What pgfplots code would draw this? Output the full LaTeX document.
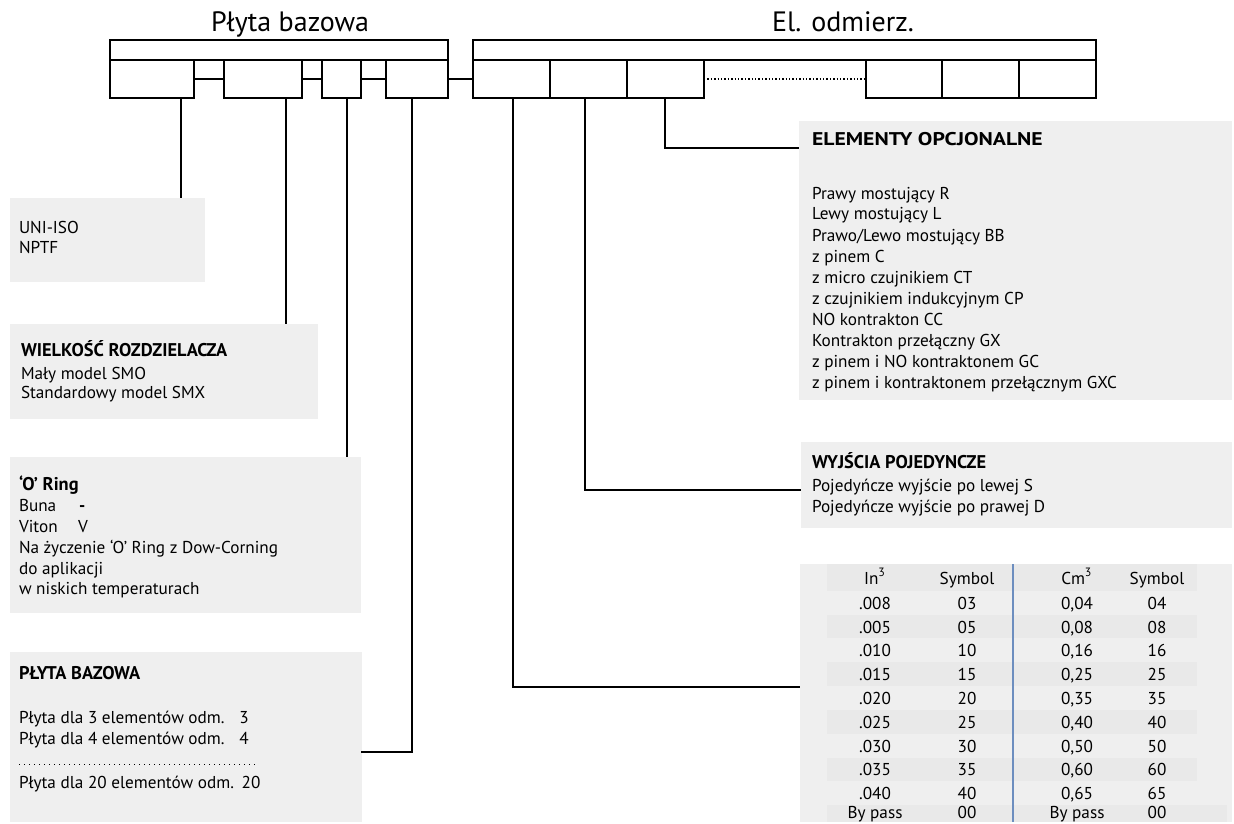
\documentclass[border=0pt]{standalone}
\usepackage{fontspec}
\setmainfont{PT Sans}
\newfontfamily\titlefont{PT Sans}
\usepackage{graphicx}
\usepackage{pgfplots}
\pgfplotsset{compat=1.18}

\definecolor{bg}{HTML}{EFEFEF}
\definecolor{band}{HTML}{E9E9E9}
\definecolor{divblue}{HTML}{6D8EBF}

% rectangle in pixel coordinates: x1 y1 x2 y2
\newcommand{\gbox}[5]{\addplot[fill=#5, draw=none] coordinates {(#1,#2) (#3,#2) (#3,#4) (#1,#4)} -- cycle;}
\newcommand{\obox}[4]{\addplot[black, line width=0.9pt] coordinates {(#1,#2) (#3,#2) (#3,#4) (#1,#4)} -- cycle;}
\tikzset{lbl/.style={inner sep=0pt, outer sep=0pt, text height=6pt, text depth=0pt,
    font=\fontsize{8.6}{10}\selectfont}}
\newcommand{\txt}[3]{\node[lbl, anchor=west] at (axis cs:#1,#2) {#3};}
\newcommand{\cell}[3]{\node[lbl, anchor=center] at (axis cs:#1,#2) {#3};}
\newcommand{\hd}[1]{{\fontsize{9.2}{10}\selectfont\bfseries #1}}

\begin{document}
\begin{tikzpicture}
\begin{axis}[
  hide axis, scale only axis,
  width=617pt, height=411pt,
  xmin=0, xmax=1234, ymin=0, ymax=822,
  y dir=reverse, clip=false,
]
\gbox{0}{0}{1234}{822}{white}

% grey panels
\gbox{10}{198}{205}{282}{bg}
\gbox{10}{324}{318}{419}{bg}
\gbox{10}{457}{361}{613}{bg}
\gbox{10}{652}{362}{822}{bg}
\gbox{799}{121}{1232}{400}{bg}
\gbox{801}{442}{1232}{528}{bg}
\gbox{800}{564}{1232}{822}{bg}
% table bands
\gbox{827}{564}{1197}{591}{band}
\gbox{827}{615}{1197}{638}{band}
\gbox{827}{662}{1197}{686}{band}
\gbox{827}{710}{1197}{734}{band}
\gbox{827}{758}{1197}{781}{band}
\gbox{827}{805}{1227}{822}{band}
\addplot[divblue, line width=1.1pt] coordinates {(1013,564) (1013,822)};

% code boxes
\obox{110}{40}{448}{60}
\obox{110}{60}{194}{98}
\obox{224}{60}{302}{98}
\obox{322}{60}{361}{98}
\obox{386}{60}{448}{98}
\addplot[black, line width=0.9pt] coordinates {(194,79) (224,79)};
\addplot[black, line width=0.9pt] coordinates {(302,79) (322,79)};
\addplot[black, line width=0.9pt] coordinates {(361,79) (386,79)};
\addplot[black, line width=0.9pt] coordinates {(448,79) (473,79)};
\obox{473}{40}{1096}{60}
\obox{473}{60}{550}{98}
\obox{550}{60}{627}{98}
\obox{627}{60}{704}{98}
\obox{866}{60}{942}{98}
\obox{942}{60}{1019}{98}
\obox{1019}{60}{1096}{98}
\addplot[black, line width=0.7pt, densely dotted] coordinates {(704,79) (866,79)};

% leader lines
\addplot[black, line width=0.9pt] coordinates {(181,98) (181,198)};
\addplot[black, line width=0.9pt] coordinates {(286,98) (286,324)};
\addplot[black, line width=0.9pt] coordinates {(347,98) (347,457)};
\addplot[black, line width=0.9pt] coordinates {(412,98) (412,752) (361,752)};
\addplot[black, line width=0.9pt] coordinates {(513,98) (513,687) (800,687)};
\addplot[black, line width=0.9pt] coordinates {(585,98) (585,490) (801,490)};
\addplot[black, line width=0.9pt] coordinates {(665,98) (665,148) (799,148)};

% titles
\node[inner sep=0pt, anchor=center, font=\titlefont\fontsize{14}{16}\selectfont, text height=10pt, text depth=0pt] at (axis cs:290,22) {Płyta bazowa};
\node[inner sep=0pt, anchor=center, font=\titlefont\fontsize{14}{16}\selectfont, text height=10pt, text depth=0pt] at (axis cs:843,22) {El. odmierz.};

% left panels
\txt{19}{227}{UNI-ISO}
\txt{19}{247}{NPTF}

\txt{21}{350}{\hd{WIELKOŚĆ ROZDZIELACZA}}
\txt{21}{373}{Mały model SMO}
\txt{21}{392}{Standardowy model SMX}

\txt{19}{484}{\hd{‘O’ Ring}}
\txt{19}{505}{Buna}
\txt{79}{505}{\textbf{-}}
\txt{19}{526}{Viton}
\txt{78}{526}{V}
\txt{19}{547}{Na życzenie ‘O’ Ring z Dow-Corning}
\txt{19}{568}{do aplikacji}
\txt{19}{588}{w niskich temperaturach}

\txt{19}{673}{\hd{PŁYTA BAZOWA}}
\txt{19}{717}{Płyta dla 3 elementów odm.}
\cell{244}{717}{3}
\txt{19}{738}{Płyta dla 4 elementów odm.}
\cell{244}{738}{4}
\addplot[black, line width=0.5pt, dotted] coordinates {(19,764) (256,764)};
\txt{19}{782}{Płyta dla 20 elementów odm.}
\cell{251}{782}{20}

% right panels
\txt{812}{140}{\scalebox{1.18}[1]{\hd{ELEMENTY OPCJONALNE}}}
\txt{812}{193}{Prawy mostujący R}
\txt{812}{214}{Lewy mostujący L}
\txt{812}{235}{Prawo/Lewo mostujący BB}
\txt{812}{256}{z pinem C}
\txt{812}{277}{z micro czujnikiem CT}
\txt{812}{298}{z czujnikiem indukcyjnym CP}
\txt{812}{319}{NO kontrakton CC}
\txt{812}{340}{Kontrakton przełączny GX}
\txt{812}{361}{z pinem i NO kontraktonem GC}
\txt{812}{382}{z pinem i kontraktonem przełącznym GXC}

\txt{812}{462}{\hd{WYJŚCIA POJEDYNCZE}}
\txt{812}{485}{Pojedyńcze wyjście po lewej S}
\txt{812}{506}{Pojedyńcze wyjście po prawej D}

% table
\cell{875}{578}{In\textsuperscript{3}}
\cell{967}{578}{Symbol}
\cell{1077}{578}{Cm\textsuperscript{3}}
\cell{1157}{578}{Symbol}
\cell{875}{603}{.008}\cell{967}{603}{03}\cell{1077}{603}{0,04}\cell{1157}{603}{04}
\cell{875}{627}{.005}\cell{967}{627}{05}\cell{1077}{627}{0,08}\cell{1157}{627}{08}
\cell{875}{650}{.010}\cell{967}{650}{10}\cell{1077}{650}{0,16}\cell{1157}{650}{16}
\cell{875}{674}{.015}\cell{967}{674}{15}\cell{1077}{674}{0,25}\cell{1157}{674}{25}
\cell{875}{698}{.020}\cell{967}{698}{20}\cell{1077}{698}{0,35}\cell{1157}{698}{35}
\cell{875}{722}{.025}\cell{967}{722}{25}\cell{1077}{722}{0,40}\cell{1157}{722}{40}
\cell{875}{746}{.030}\cell{967}{746}{30}\cell{1077}{746}{0,50}\cell{1157}{746}{50}
\cell{875}{769}{.035}\cell{967}{769}{35}\cell{1077}{769}{0,60}\cell{1157}{769}{60}
\cell{875}{793}{.040}\cell{967}{793}{40}\cell{1077}{793}{0,65}\cell{1157}{793}{65}
\cell{875}{812}{By pass}\cell{967}{812}{00}\cell{1077}{812}{By pass}\cell{1157}{812}{00}
\end{axis}
\end{tikzpicture}
\end{document}
